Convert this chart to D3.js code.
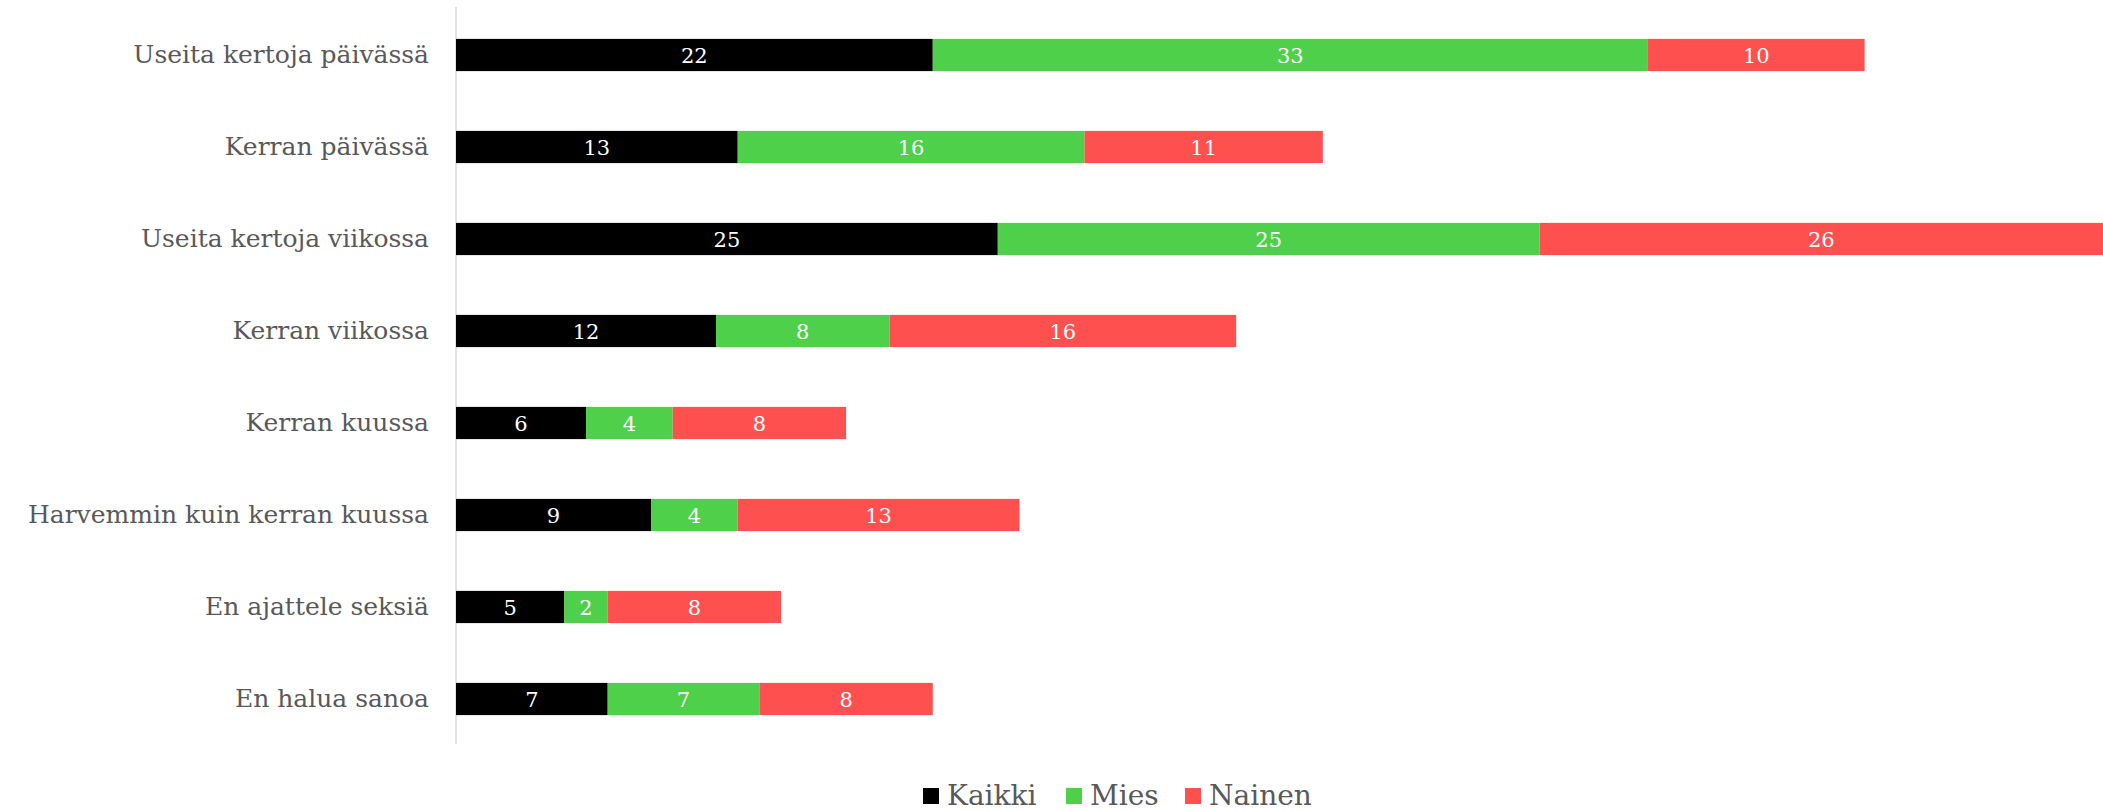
<!DOCTYPE html>
<html>
<head>
<meta charset="utf-8">
<script src="https://cdn.jsdelivr.net/npm/d3@7"></script>
<style>
  body { margin: 0; background: #fff; }
  svg { display: block; font-family: "DejaVu Serif", serif; }
</style>
</head>
<body>
<svg id="chart" width="2103" height="811"></svg>
<script>
const categories = [
  'Useita kertoja päivässä',
  'Kerran päivässä',
  'Useita kertoja viikossa',
  'Kerran viikossa',
  'Kerran kuussa',
  'Harvemmin kuin kerran kuussa',
  'En ajattele seksiä',
  'En halua sanoa'
];
const seriesNames = ['Kaikki', 'Mies', 'Nainen'];
const kaikki = [22, 13, 25, 12, 6, 9, 5, 7];
const mies = [33, 16, 25, 8, 4, 4, 2, 7];
const nainen = [10, 11, 26, 16, 8, 13, 8, 8];
const colors = ['#000000', '#4ed04a', '#ff5050'];

const svg = d3.select('#chart');
const width = 2103;

const rows = categories.map((c, i) => ({ cat: c, Kaikki: kaikki[i], Mies: mies[i], Nainen: nainen[i] }));
const stacked = d3.stack().keys(seriesNames)(rows);

const x = d3.scaleLinear()
  .domain([0, d3.max(rows, d => d.Kaikki + d.Mies + d.Nainen)])
  .range([456, width]);

const y = d3.scaleBand()
  .domain(categories)
  .range([9, 745])
  .paddingInner(0.65)
  .paddingOuter(0.325);

// vertical axis line
svg.append('line')
  .attr('x1', x(0)).attr('x2', x(0))
  .attr('y1', 7).attr('y2', 744)
  .attr('stroke', '#d9d9d9')
  .attr('stroke-width', 1.5);

const layers = svg.append('g')
  .selectAll('g')
  .data(stacked)
  .join('g')
    .attr('fill', (d, i) => colors[i]);

layers.selectAll('rect')
  .data(d => d)
  .join('rect')
    .attr('x', d => x(d[0]))
    .attr('y', d => y(d.data.cat))
    .attr('width', d => x(d[1]) - x(d[0]))
    .attr('height', y.bandwidth());

layers.selectAll('text')
  .data(d => d)
  .join('text')
    .attr('x', d => (x(d[0]) + x(d[1])) / 2)
    .attr('y', d => y(d.data.cat) + y.bandwidth() / 2)
    .attr('dy', '0.38em')
    .attr('text-anchor', 'middle')
    .attr('fill', '#fff')
    .attr('font-size', 21)
    .text(d => d[1] - d[0]);

const yAxis = svg.append('g')
  .attr('transform', `translate(${x(0)},0)`)
  .call(d3.axisLeft(y).tickSize(0).tickPadding(27));
yAxis.select('.domain').remove();
yAxis.selectAll('text')
  .attr('font-family', '"DejaVu Serif", serif')
  .attr('font-size', 25)
  .attr('fill', '#595959');

// legend
const legendX = [923, 1066, 1185];
const legend = svg.append('g')
  .selectAll('g')
  .data(seriesNames)
  .join('g')
    .attr('transform', (d, i) => `translate(${legendX[i]},795)`);
legend.append('rect')
  .attr('x', 0).attr('y', -7)
  .attr('width', 16).attr('height', 16)
  .attr('fill', (d, i) => colors[i]);
legend.append('text')
  .attr('x', 24)
  .attr('dy', '0.36em')
  .attr('font-size', 28)
  .attr('fill', '#595959')
  .text(d => d);
</script>
</body>
</html>
